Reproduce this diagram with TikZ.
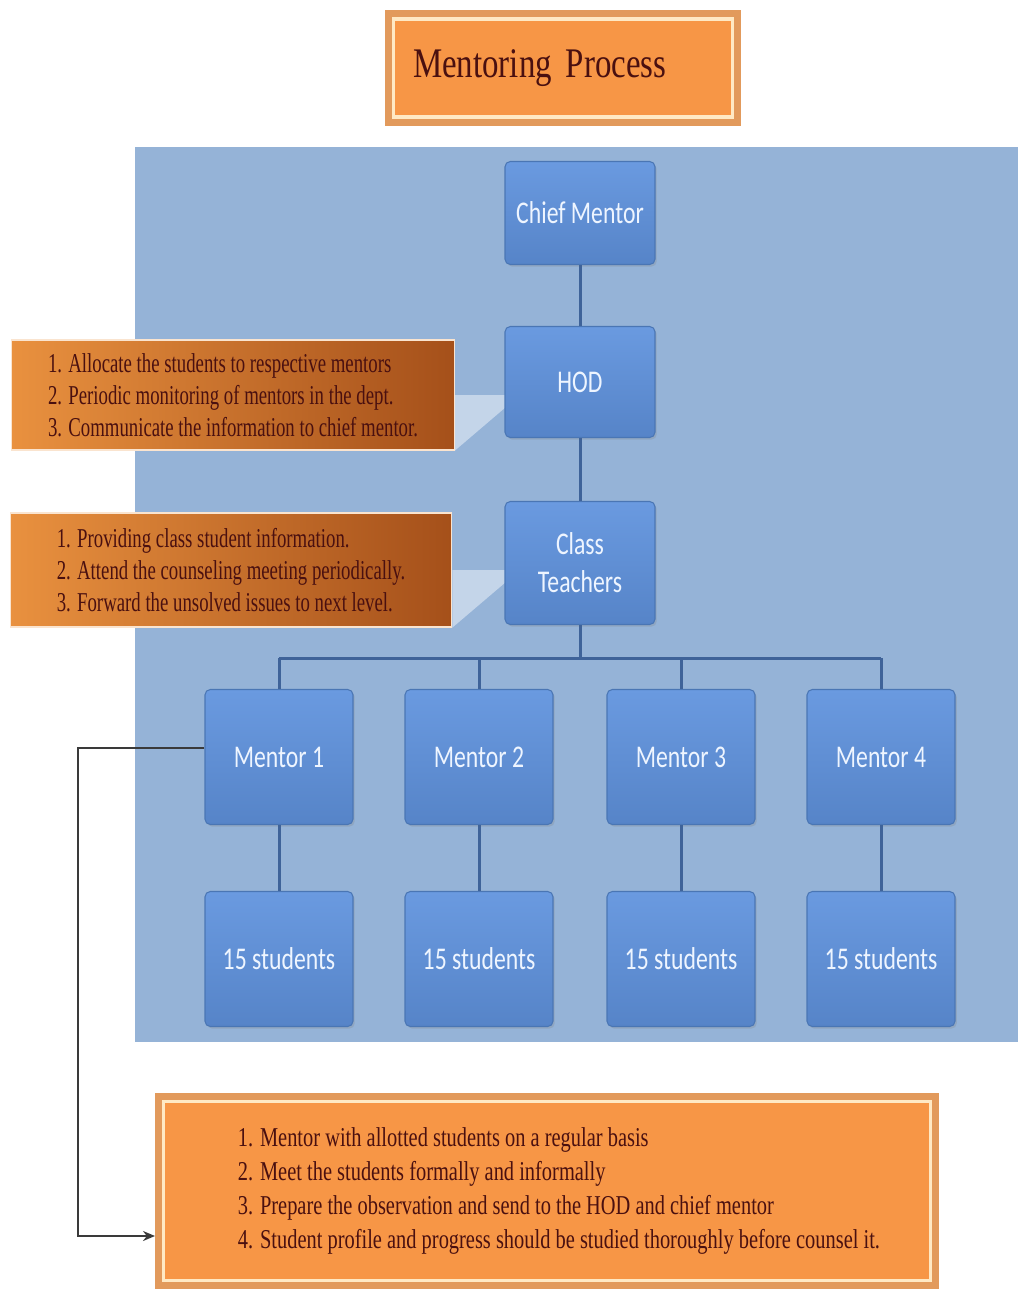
\documentclass[tikz,border=0pt]{standalone}
\usepackage{fontspec}
\newfontfamily\condserif[FakeStretch=0.69]{Liberation Serif}
\newfontfamily\dutyserif[FakeStretch=0.75]{Liberation Serif}
\newfontfamily\titleserif[FakeStretch=0.78]{Liberation Serif}
\newfontfamily\boxsans[FakeStretch=0.75]{Carlito}
\usetikzlibrary{arrows.meta,shadows}

\definecolor{panelblue}{HTML}{95B3D7}
\definecolor{boxtop}{HTML}{6A9AE0}
\definecolor{boxbot}{HTML}{5684C8}
\definecolor{boxedge}{HTML}{4A76B4}
\definecolor{boxtext}{HTML}{EEF5FF}
\definecolor{linkblue}{HTML}{3F6399}
\definecolor{callleft}{HTML}{E9913F}
\definecolor{callright}{HTML}{A5501A}
\definecolor{calltext}{HTML}{4A1010}
\definecolor{frametan}{HTML}{E29A5C}
\definecolor{framecream}{HTML}{FFE9C4}
\definecolor{titleorange}{HTML}{F79646}
\definecolor{arrowgrey}{HTML}{3A3A3A}

\newcommand\dutyline{\hspace*{0.48cm}}

\tikzset{
  orgbox/.style={rectangle, rounded corners=3pt, top color=boxtop, bottom color=boxbot,
    draw=boxedge, line width=0.6pt, text=boxtext, align=center,
    drop shadow={shadow xshift=1pt, shadow yshift=-1.2pt, opacity=.25},
    font=\boxsans\fontsize{18}{21.5}\selectfont},
  callout/.style={rectangle, left color=callleft, right color=callright,
    draw=white!75!callleft, line width=0.6pt, text=calltext, align=left,
    font=\condserif\fontsize{15.5}{18.2}\selectfont},
  framedbox/.style={rectangle, fill=titleorange, draw=framecream, line width=0.07cm,
    preaction={draw=frametan, line width=0.36cm}, text=calltext},
  link/.style={draw=linkblue, line width=0.06cm},
}

\begin{document}
\begin{tikzpicture}[x=0.02cm,y=-0.02cm]

  \useasboundingbox (0,0) rectangle (1018,1292);
  \fill[panelblue] (135,147) rectangle (1018,1042);

  % notes on the left
  \node[callout, minimum width=8.86cm, minimum height=2.2cm] (hodnote) at (233,395)
    {1. Allocate the students to respective mentors\\
     2. Periodic monitoring of mentors in the dept.\\
     3. Communicate the information to chief mentor.};
  \node[callout, minimum width=8.84cm, minimum height=2.28cm] (classnote) at (231,570)
    {1. Providing class student information.\\
     2. Attend the counseling meeting periodically.\\
     3. Forward the unsolved issues to next level.};

  \coordinate (hodtip) at (520,395);
  \coordinate (classtip) at (520,570);
  \fill[white, opacity=.45] (hodnote.east) -- (hodtip) -- (hodnote.south east) -- cycle;
  \fill[white, opacity=.45] (classnote.east) -- (classtip) -- (classnote.south east) -- cycle;

  % chart
  \begin{scope}[every node/.style={orgbox}]
    \node[minimum width=3cm, minimum height=2.06cm] (chief) at (580,213) {Chief Mentor};
    \node[minimum width=3cm, minimum height=2.22cm] (hod)   at (580,382) {HOD};
    \node[minimum width=3cm, minimum height=2.46cm] (class) at (580,563) {Class\\Teachers};

    \node[minimum width=2.96cm, minimum height=2.7cm] (m1) at (279,757) {Mentor 1};
    \node[minimum width=2.96cm, minimum height=2.7cm] (m2) at (479,757) {Mentor 2};
    \node[minimum width=2.96cm, minimum height=2.7cm] (m3) at (681,757) {Mentor 3};
    \node[minimum width=2.96cm, minimum height=2.7cm] (m4) at (881,757) {Mentor 4};

    \node[minimum width=2.96cm, minimum height=2.7cm] (s1) at (279,959) {15 students};
    \node[minimum width=2.96cm, minimum height=2.7cm] (s2) at (479,959) {15 students};
    \node[minimum width=2.96cm, minimum height=2.7cm] (s3) at (681,959) {15 students};
    \node[minimum width=2.96cm, minimum height=2.7cm] (s4) at (881,959) {15 students};
  \end{scope}

  \coordinate (bus) at (580,658);
  \path[link] (chief) -- (hod);
  \path[link] (hod) -- (class);
  \path[link] (class) -- (bus);
  \path[link] (m1.north |- bus) -- (m4.north |- bus);
  \foreach \i in {1,...,4} {
    \path[link] (m\i.north |- bus) -- (m\i.north);
    \path[link] (m\i) -- (s\i);
  }

  % title and mentor duties
  \node[framedbox, minimum width=6.78cm, minimum height=1.96cm, text width=6cm, align=left,
        font=\titleserif\fontsize{24}{28}\selectfont] (title) at (563,68) {Mentoring Process};

  \node[framedbox, minimum width=15.34cm, minimum height=3.58cm, align=left,
        font=\dutyserif\fontsize{15.5}{19.3}\selectfont] (duties) at (547,1191)
    {\dutyline 1. Mentor with allotted students on a regular basis\\
     \dutyline 2. Meet the students formally and informally\\
     \dutyline 3. Prepare the observation and send to the HOD and chief mentor\\
     \dutyline 4. Student profile and progress should be studied thoroughly before counsel it.};

  \coordinate (turn) at (78,748);
  \coordinate (entry) at (155,1236);
  \draw[arrowgrey, line width=0.04cm, -{Stealth[length=0.24cm, width=0.2cm]}]
    (turn -| m1.west) -- (turn) |- (entry);

\end{tikzpicture}
\end{document}
